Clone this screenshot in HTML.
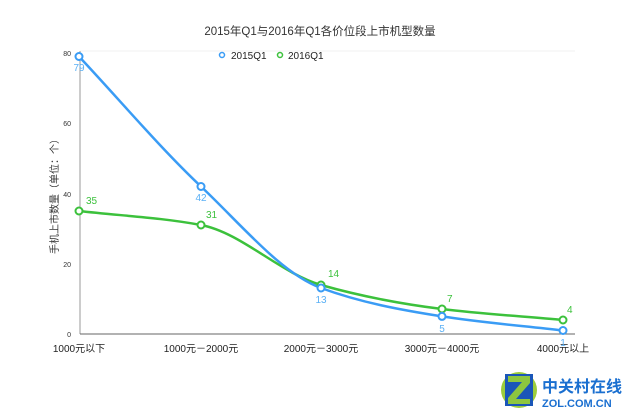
<!DOCTYPE html><html><head><meta charset="utf-8"><style>body{margin:0;background:#fff}svg{display:block}text{font-family:"Liberation Sans","Noto Sans CJK SC",sans-serif}</style></head><body>
<svg width="640" height="420" viewBox="0 0 640 420">
<text x="320" y="35" font-size="11.5" text-anchor="middle" fill="#333">2015年Q1与2016年Q1各价位段上市机型数量</text>
<line x1="80" y1="51" x2="575" y2="51" stroke="#f0f0f0"/>
<line x1="80" y1="51" x2="80" y2="334" stroke="#999"/>
<line x1="80" y1="334" x2="575" y2="334" stroke="#666"/>
<g font-size="7" fill="#333" text-anchor="end"><text x="71" y="56">80</text><text x="71" y="126">60</text><text x="71" y="197">40</text><text x="71" y="267">20</text><text x="71" y="337">0</text></g>
<text transform="translate(58,194) rotate(-90)" font-size="10" text-anchor="middle" fill="#333">手机上市数量（单位：个）</text>
<g font-size="10" fill="#222" text-anchor="middle"><text x="79" y="352">1000元以下</text><text x="201" y="352">1000元－2000元</text><text x="321" y="352">2000元－3000元</text><text x="442" y="352">3000元－4000元</text><text x="563" y="352">4000元以上</text></g>
<circle cx="222" cy="55" r="2.5" fill="none" stroke="#3a9cf5" stroke-width="1.5"/><text x="231" y="59" font-size="10" fill="#222">2015Q1</text>
<circle cx="280" cy="55" r="2.5" fill="none" stroke="#3cc13c" stroke-width="1.5"/><text x="288" y="59" font-size="10" fill="#222">2016Q1</text>
<path d="M79,211 C119.7,215.7 160.3,217.4 201,225 C241,232.5 281,273.6 321,285 C361.3,296.4 401.7,304 442,309 C482.3,314 522.7,316.3 563,320" fill="none" stroke="#3cc13c" stroke-width="2.5"/>
<path d="M79,56.5 C119.7,99.9 160.3,148.1 201,186.5 C241,224.2 281,273.3 321,288 C361.3,302.8 401.7,310.1 442,316.4 C482.3,322.7 522.7,325.8 563,330.5" fill="none" stroke="#3a9cf5" stroke-width="2.5"/>
<g fill="#fff" stroke="#3cc13c" stroke-width="2"><circle cx="79" cy="211" r="3.5"/><circle cx="201" cy="225" r="3.5"/><circle cx="321" cy="285" r="3.5"/><circle cx="442" cy="309" r="3.5"/><circle cx="563" cy="320" r="3.5"/></g>
<g fill="#fff" stroke="#3a9cf5" stroke-width="2"><circle cx="79" cy="56.5" r="3.5"/><circle cx="201" cy="186.5" r="3.5"/><circle cx="321" cy="288" r="3.5"/><circle cx="442" cy="316.4" r="3.5"/><circle cx="563" cy="330.5" r="3.5"/></g>
<g font-size="10" fill="#5ab0f5" text-anchor="middle"><text x="79" y="71">79</text><text x="201" y="201">42</text><text x="321" y="303">13</text><text x="442" y="332">5</text><text x="563" y="346">1</text></g>
<g font-size="10" fill="#3cc13c"><text x="86" y="204">35</text><text x="206" y="218">31</text><text x="328" y="277">14</text><text x="447" y="302">7</text><text x="567" y="313">4</text></g>
<circle cx="519" cy="390" r="18" fill="#9ccc3c"/>
<rect x="505" y="374" width="28" height="32" fill="#1a56b8"/>
<polygon points="508,376 530,376 530,383 516,399 530,399 530,404 508,404 508,398 522,382 508,382" fill="#8dc63f"/>
<text x="542" y="392" font-size="16" font-weight="bold" fill="#1a6fd0">中关村在线</text>
<text x="542" y="407" font-size="11" font-weight="bold" fill="#1a6fd0">ZOL.COM.CN</text>
</svg></body></html>
